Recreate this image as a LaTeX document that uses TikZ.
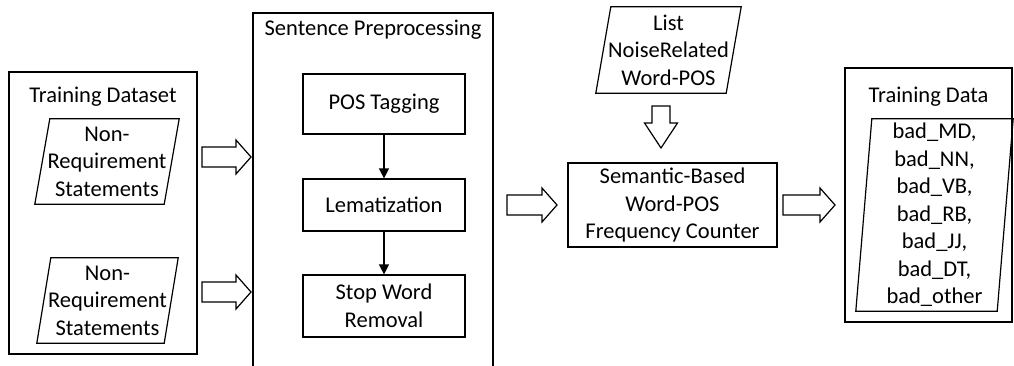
\documentclass[tikz,border=0pt]{standalone}
\usepackage{fontspec}
\setmainfont{Carlito}
\usetikzlibrary{arrows.meta,calc}
\begin{document}
\begin{tikzpicture}[x=1pt,y=-1pt,
  txt/.style={font=\fontsize{22.5}{27.5}\selectfont},
  frame/.style={draw, line width=1.2pt, line join=miter},
  box/.style={frame, txt, align=center, inner sep=0pt},
  lbl/.style={txt, align=center, inner sep=0pt},
  flow/.style={line width=1.2pt, -{Triangle[length=10pt,width=10pt]}},
  hollow/.style={draw, line width=1.2pt, fill=white, line join=miter},
  pics/blockarrow/.style args={#1/#2/#3/#4}{code={
    \draw[hollow] (0,-#3) -- (#1-#2,-#3) -- (#1-#2,-#4) -- (#1,0)
      -- (#1-#2,#4) -- (#1-#2,#3) -- (0,#3) -- cycle;}}
]
\useasboundingbox (0,0) rectangle (1014,365);

% --- Training Dataset ---
\node[box, minimum width=188, minimum height=282] (td) at (103,213) {};
\node[lbl] (tdt) at (103,97) {Training Dataset};
\node[lbl, minimum width=144, minimum height=85] (nr1) at (107,161.5) {Non-\\Requirement\\Statements};
\draw[frame] ($(nr1.north west)+(15,0)$) -- (nr1.north east) -- ($(nr1.south east)-(15,0)$) -- (nr1.south west) -- cycle;
\node[lbl, minimum width=141, minimum height=85] (nr2) at (107.5,300.5) {Non-\\Requirement\\Statements};
\draw[frame] ($(nr2.north west)+(14,0)$) -- (nr2.north east) -- ($(nr2.south east)-(14,0)$) -- (nr2.south west) -- cycle;

\coordinate (a1) at (202,157);
\coordinate (a2) at (202,292);
\pic at (a1) {blockarrow=49/15/10/17};
\pic at (a2) {blockarrow=49/15/10/17};

% --- Sentence Preprocessing ---
\coordinate (spbl) at (253,366);
\coordinate (sptr) at (493,13);
\coordinate (spbr) at (493,366);
\draw[frame] (spbl) |- (sptr) -- (spbr);
\node[lbl] (spt) at (373,30) {Sentence Preprocessing};
\node[box, minimum width=162, minimum height=60] (pos) at (384,104) {POS Tagging};
\node[box, minimum width=162, minimum height=52] (lem) at (384,205) {Lematization};
\node[box, minimum width=162, minimum height=62] (stop) at (384,306) {Stop Word\\Removal};
\draw[flow] (pos) -- (lem);
\draw[flow] (lem) -- (stop);

\coordinate (a3) at (507,205);
\pic at (a3) {blockarrow=50/15/10/17};

% --- Counter and word list ---
\node[box, minimum width=209, minimum height=84] (sem) at (672.5,205) {Semantic-Based\\Word-POS\\Frequency Counter};
\node[lbl, minimum width=145, minimum height=86] (list) at (668.5,50) {List\\NoiseRelated\\Word-POS};
\draw[frame] ($(list.north west)+(15,0)$) -- (list.north east) -- ($(list.south east)-(15,0)$) -- (list.south west) -- cycle;
\coordinate (a5) at (661,106);
\pic[rotate=-90] at (a5) {blockarrow=42/25/9/16.5};

\coordinate (a4) at (783,205);
\pic at (a4) {blockarrow=52/15/10/17};

% --- Training Data ---
\node[box, minimum width=167, minimum height=254] (tdata) at (928.5,195) {};
\node[lbl] (tdatat) at (928.5,97) {Training Data};
\node[lbl, minimum width=157, minimum height=192] (bad) at (934.5,215)
  {bad\_MD,\\bad\_NN,\\bad\_VB,\\bad\_RB,\\bad\_JJ,\\bad\_DT,\\bad\_other};
\draw[frame] ($(bad.north west)+(16,0)$) -- (bad.north east) -- ($(bad.south east)-(16,0)$) -- (bad.south west) -- cycle;
\end{tikzpicture}
\end{document}
